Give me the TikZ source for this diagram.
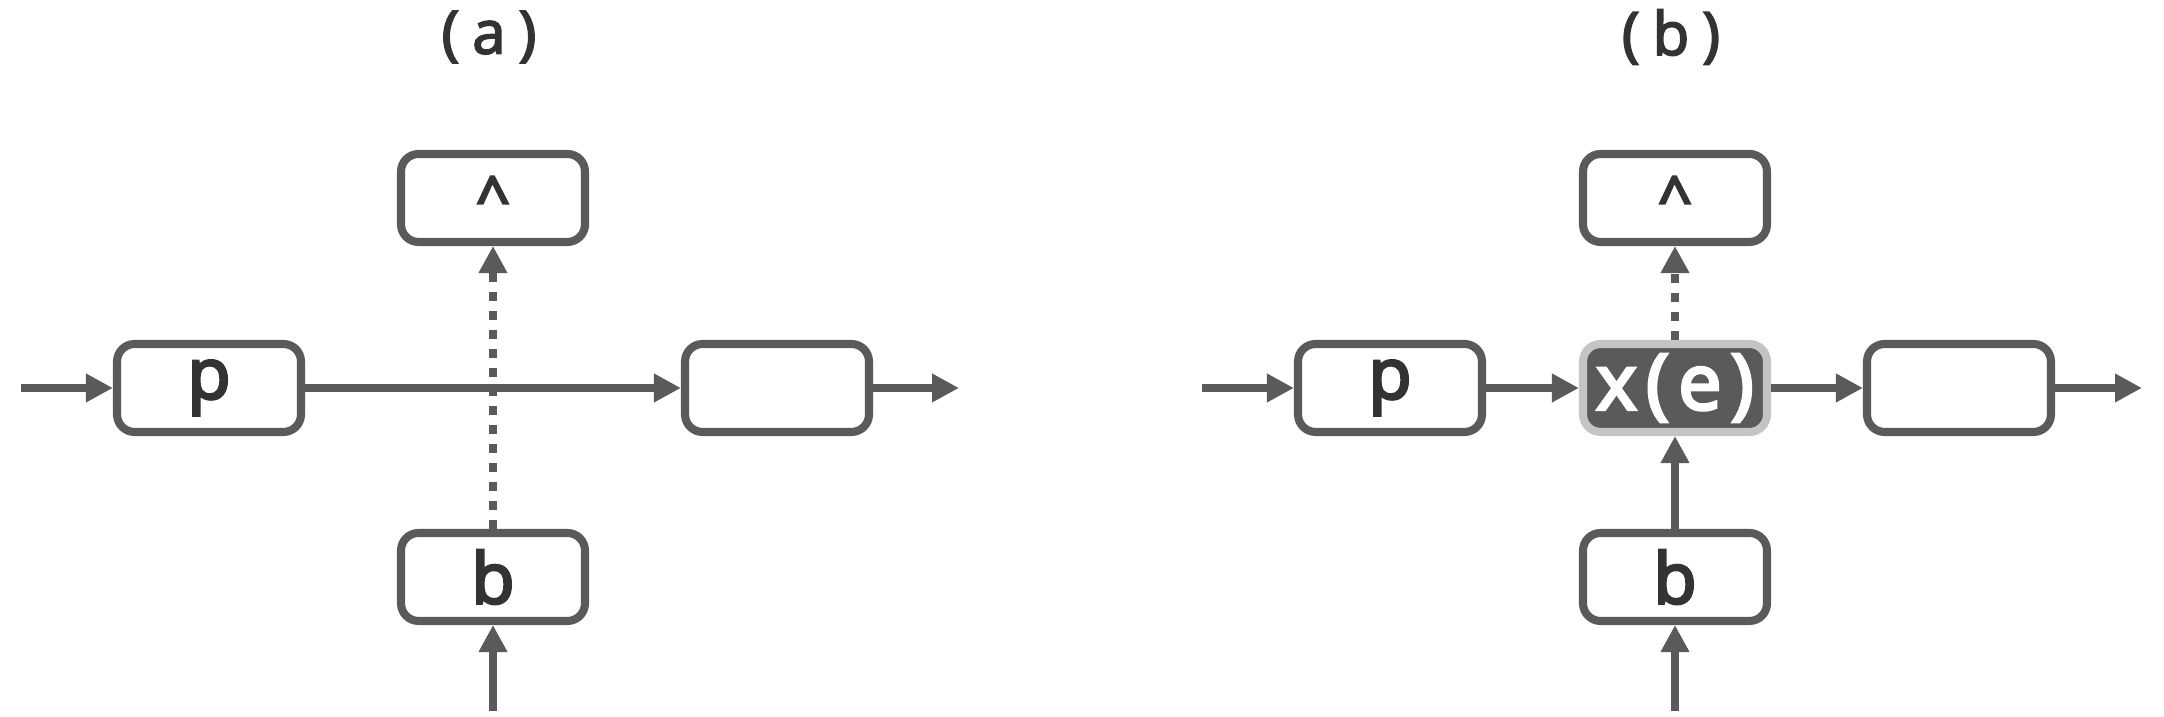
\documentclass[tikz,border=0pt]{standalone}
\usepackage{fontspec}
\setmainfont{Open Sans}
\newfontfamily\titlefont[LetterSpace=22, FakeBold=3]{Open Sans}
\newfontfamily\cellfont[FakeBold=4]{Open Sans}
\usetikzlibrary{positioning,arrows.meta}
\definecolor{linegray}{HTML}{5A5A5A}
\definecolor{textgray}{HTML}{333333}
\definecolor{halogray}{HTML}{C4C4C4}

\begin{document}
\begin{tikzpicture}[
            cell/.style={rectangle, draw=linegray, rounded corners=5pt, fill=white, minimum width=1.84cm, minimum height=0.88cm, line width=2.3pt, inner sep=0pt, text=textgray, font=\cellfont\fontsize{20}{24}\selectfont},
            hot/.style={cell, draw=halogray, fill=linegray, text=white, font=\cellfont\fontsize{22}{26}\selectfont\addfontfeature{LetterSpace=12}},
            caret/.style={cell, font=\cellfont\fontsize{17}{20}\selectfont},
            arrow/.style={-{Triangle[length=2.7mm, width=2.7mm]}, line width=2.3pt, draw=linegray},
            weak/.style={arrow, dash pattern=on 2.6pt off 2.8pt},
            title/.style={text=textgray, font=\titlefont\fontsize{17}{20}\selectfont}
        ]
            \useasboundingbox (0,0) rectangle (21.64,7.17);
            % (a)
            \node[title] (ta) at (4.89,6.80) {(a)};
            \node[caret] (ua) at (4.93,5.19) {\^{}};
            \node[cell] (pa) at (2.09,3.29) {p};
            \node[cell] (ra) at (7.77,3.29) {};
            \node[cell] (ba) at (4.93,1.40) {b};
            \coordinate (ina) at (0.21,3.29);
            \coordinate (outa) at (9.59,3.29);
            \coordinate (loa) at (4.93,0.06);
            \draw[arrow] (ina) -- (pa);
            \draw[arrow] (pa) -- (ra);
            \draw[arrow] (ra) -- (outa);
            \draw[arrow] (loa) -- (ba);
            \draw[weak] (ba) -- (ua);
            % (b)
            \node[title] (tb) at (16.71,6.80) {(b)};
            \node[caret] (ub) at (16.75,5.19) {\^{}};
            \node[cell] (pb) at (13.90,3.29) {p};
            \node[hot] (xb) at (16.75,3.29) {x(e)};
            \node[cell] (rb) at (19.59,3.29) {};
            \node[cell] (bb) at (16.75,1.40) {b};
            \coordinate (inb) at (12.02,3.29);
            \coordinate (outb) at (21.42,3.29);
            \coordinate (lob) at (16.75,0.06);
            \draw[arrow] (inb) -- (pb);
            \draw[arrow] (pb) -- (xb);
            \draw[arrow] (xb) -- (rb);
            \draw[arrow] (rb) -- (outb);
            \draw[arrow] (lob) -- (bb);
            \draw[arrow] (bb) -- (xb);
            \draw[weak] (xb) -- (ub);
        \end{tikzpicture}
\end{document}
